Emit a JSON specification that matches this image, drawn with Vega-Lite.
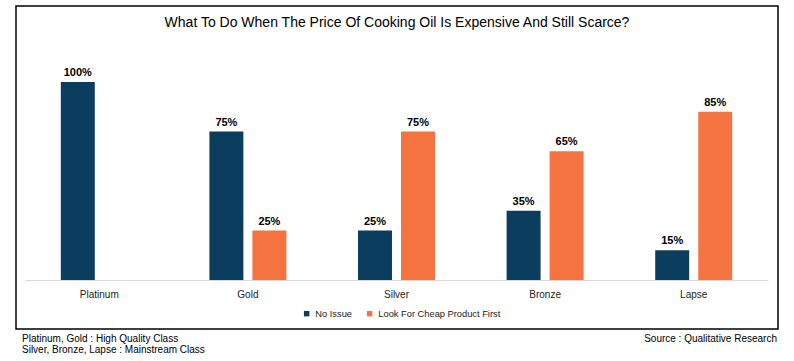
{
  "$schema": "https://vega.github.io/schema/vega-lite/v6.json",
  "autosize": {"type": "pad"},
  "padding": {"left": 15, "top": 5, "right": 0, "bottom": 0},
  "background": "white",
  "bounds": "flush",
  "spacing": 0,
  "config": {"font": "Liberation Sans", "concat": {"spacing": 0}},
  "vconcat": [
    {
      "width": 762,
      "height": 323,
      "view": {"stroke": "#000000", "strokeWidth": 1.5},
      "title": {"text": "What To Do When The Price Of Cooking Oil Is Expensive And Still Scarce?", "fontSize": 14, "fontWeight": "normal", "color": "#000000", "anchor": "middle", "offset": -24},
      "data": {"values": [
        {"class": "Platinum", "answer": "No Issue", "pct": 1.0},
        {"class": "Gold", "answer": "No Issue", "pct": 0.75},
        {"class": "Gold", "answer": "Look For Cheap Product First", "pct": 0.25},
        {"class": "Silver", "answer": "No Issue", "pct": 0.25},
        {"class": "Silver", "answer": "Look For Cheap Product First", "pct": 0.75},
        {"class": "Bronze", "answer": "No Issue", "pct": 0.35},
        {"class": "Bronze", "answer": "Look For Cheap Product First", "pct": 0.65},
        {"class": "Lapse", "answer": "No Issue", "pct": 0.15},
        {"class": "Lapse", "answer": "Look For Cheap Product First", "pct": 0.85}
      ]},
      "encoding": {
        "x": {"field": "class", "type": "nominal", "sort": ["Platinum", "Gold", "Silver", "Bronze", "Lapse"],
          "scale": {"range": [9, 752], "paddingInner": 0.482, "paddingOuter": 0.241},
          "axis": {"title": null, "orient": "bottom", "offset": -49, "domainColor": "#D9D9D9", "domainWidth": 1, "ticks": false, "labelPadding": 9, "labelFontSize": 10, "labelColor": "#222222", "labelAngle": 0, "grid": false}},
        "xOffset": {"field": "answer", "type": "nominal", "sort": ["No Issue", "Look For Cheap Product First"], "scale": {"paddingInner": 0.21, "paddingOuter": 0}},
        "y": {"field": "pct", "type": "quantitative", "scale": {"domain": [0, 1], "range": [274, 76]}, "axis": null}
      },
      "layer": [
        {
          "mark": {"type": "bar"},
          "encoding": {
            "color": {"field": "answer", "type": "nominal", "sort": ["No Issue", "Look For Cheap Product First"],
              "scale": {"domain": ["No Issue", "Look For Cheap Product First"], "range": ["#0B3D5E", "#F47340"]},
              "legend": {"orient": "none", "legendX": 286, "legendY": 303, "direction": "horizontal", "title": null, "symbolType": "square", "symbolSize": 30, "labelFontSize": 9.3, "labelColor": "#222222", "columnPadding": 13, "labelOffset": 4}}
          }
        },
        {
          "mark": {"type": "text", "dy": -6, "baseline": "alphabetic", "fontWeight": "bold", "fontSize": 11, "color": "#000000"},
          "encoding": {"text": {"field": "pct", "type": "quantitative", "format": ".0%"}}
        }
      ]
    },
    {
      "width": 762,
      "height": 32,
      "view": {"stroke": null},
      "data": {"values": [
        {"note": "Platinum, Gold : High Quality Class", "side": "left", "line": 1},
        {"note": "Silver, Bronze, Lapse : Mainstream Class", "side": "left", "line": 2},
        {"note": "Source : Qualitative Research", "side": "right", "line": 1}
      ]},
      "encoding": {
        "x": {"field": "side", "type": "nominal", "scale": {"type": "point", "domain": ["left", "right"], "range": [6, 761], "padding": 0}, "axis": null},
        "y": {"field": "line", "type": "ordinal", "scale": {"type": "point", "domain": [1, 2], "range": [10, 21], "padding": 0}, "axis": null},
        "text": {"field": "note"}
      },
      "layer": [
        {"transform": [{"filter": "datum.side === 'left'"}], "mark": {"type": "text", "align": "left", "baseline": "middle", "fontSize": 10, "color": "#000000"}},
        {"transform": [{"filter": "datum.side === 'right'"}], "mark": {"type": "text", "align": "right", "baseline": "middle", "fontSize": 10, "color": "#000000"}}
      ]
    }
  ]
}
